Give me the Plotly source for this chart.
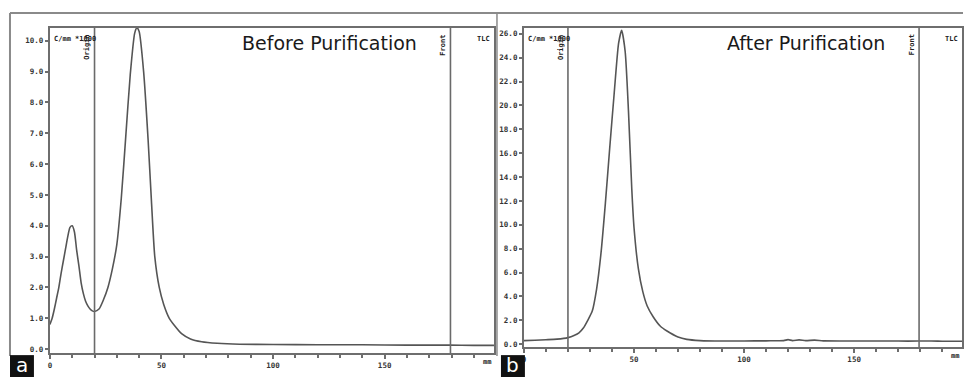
import plotly.graph_objects as go

W, H = 964, 379

# ---------------- data ----------------
mm_a = [0, 1, 2, 3, 4, 5, 6, 7, 8, 9, 10, 11, 12, 13, 14, 15, 16, 17, 18, 19, 20,
        22, 24, 26, 28, 30, 32, 34, 36, 38, 39, 40, 42, 44, 45.5, 47, 49, 51, 53.5,
        56, 59, 63, 68, 75, 85, 100, 120, 140, 160, 179, 190, 199]
cpm_a = [0.8, 1.0, 1.3, 1.65, 2.0, 2.45, 2.85, 3.25, 3.65, 3.95, 4.0, 3.8, 3.2, 2.7,
         2.15, 1.8, 1.55, 1.4, 1.3, 1.24, 1.22,
         1.3, 1.6, 2.0, 2.6, 3.4, 4.9, 6.9, 8.9, 10.25, 10.42, 10.3, 9.0, 6.8, 4.8,
         3.0, 2.0, 1.45, 1.0, 0.75, 0.5, 0.33, 0.24, 0.19, 0.16, 0.15, 0.14, 0.14,
         0.13, 0.13, 0.12, 0.12]

mm_b = [0, 5, 10, 15, 20, 23, 25, 27, 29, 31, 33, 35, 37, 39, 41, 43, 44.4, 46,
        47.5, 49, 50, 52, 54, 56, 58.7, 62, 65, 70, 74, 80, 90, 100, 110, 118, 120,
        122, 125, 128, 132, 136, 145, 160, 170, 179, 185, 190, 199]
cpm_b = [0.3, 0.33, 0.37, 0.42, 0.55, 0.75, 0.95, 1.35, 2.0, 2.75, 4.6, 7.6, 11.8,
         16.5, 21.0, 25.2, 26.3, 24.5, 19.5, 13.0, 9.8, 6.3, 4.4, 3.2, 2.3, 1.5,
         1.1, 0.6, 0.4, 0.3, 0.26, 0.27, 0.28, 0.3, 0.38, 0.3, 0.36, 0.3, 0.34,
         0.28, 0.27, 0.27, 0.26, 0.26, 0.27, 0.25, 0.24]

origin_mm = 20
front_mm = 179.5

yticks_a = [i * 1.0 for i in range(11)]
yticks_b = [i * 2.0 for i in range(14)]
xticks = [0, 50, 100, 150]

titles = ["Before Purification", "After Purification"]
panel_letters = ["a", "b"]


def X(px):
    return px / W


def Y(py):
    return 1 - py / H


CURVE = "#555555"
FRAME = "#8a8a8a"
AX = "#6e6e6e"
TXT = "#333333"
MONO = "DejaVu Sans Mono"

fig = go.Figure()
fig.add_trace(go.Scatter(x=mm_a, y=cpm_a, mode="lines", line=dict(color=CURVE, width=1.6, shape="spline", smoothing=0.6),
                         xaxis="x", yaxis="y", showlegend=False, hoverinfo="skip"))
fig.add_trace(go.Scatter(x=mm_b, y=cpm_b, mode="lines", line=dict(color=CURVE, width=1.6, shape="spline", smoothing=0.6),
                         xaxis="x2", yaxis="y2", showlegend=False, hoverinfo="skip"))

tickfont = dict(family=MONO, size=7.5, color=TXT, weight="bold")


def xax(dom, anchor):
    return dict(domain=dom, anchor=anchor, range=[0, 199], showgrid=False, zeroline=False,
                showline=True, mirror=True, linecolor=AX, linewidth=2,
                tickvals=xticks, ticktext=[str(v) for v in xticks], ticks="outside",
                ticklen=4, tickcolor=AX, tickwidth=1.5, tickfont=tickfont,
                minor=dict(dtick=10, tick0=0, ticks="outside", ticklen=3, tickcolor=AX, tickwidth=1.5))


def yax(dom, anchor, rng, vals):
    return dict(domain=dom, anchor=anchor, range=rng, showgrid=False, zeroline=False,
                showline=True, mirror=True, linecolor=AX, linewidth=2,
                tickvals=vals, ticktext=["%.1f" % v for v in vals], ticks="outside",
                ticklen=3, tickcolor=AX, tickwidth=1.5, tickfont=tickfont)


fig.update_layout(
    width=W, height=H, margin=dict(l=0, r=0, t=0, b=0),
    paper_bgcolor="white", plot_bgcolor="white",
    xaxis=xax([X(48), X(493)], "y"),
    yaxis=yax([Y(355), Y(28)], "x", [-0.13, 10.42], yticks_a),
    xaxis2=xax([X(523), X(962)], "y2"),
    yaxis2=yax([Y(349), Y(28)], "x2", [-0.25, 26.5], yticks_b),
)

shapes = []
annots = []
# outer frame lines
shapes.append(dict(type="line", xref="paper", yref="paper", x0=X(8), x1=X(963), y0=Y(13), y1=Y(13),
                   line=dict(color=FRAME, width=2)))
shapes.append(dict(type="line", xref="paper", yref="paper", x0=X(8), x1=X(8), y0=Y(13), y1=Y(358),
                   line=dict(color=FRAME, width=2)))
shapes.append(dict(type="line", xref="paper", yref="paper", x0=X(496), x1=X(496), y0=Y(13), y1=Y(358),
                   line=dict(color=FRAME, width=1.5)))

panels = [("x", "y", 328, 43, 8, 493, 364), ("x2", "y2", 806, 43, 500, 962, 358)]
for i, (xr, yr, tx, ty, bx, rx, mmy) in enumerate(panels):
    # Origin / Front lines
    for pos, name in [(origin_mm, "Origin"), (front_mm, "Front")]:
        shapes.append(dict(type="line", xref=xr, yref=yr + " domain", x0=pos, x1=pos, y0=0, y1=1,
                           line=dict(color="#6a6a6a", width=1.6)))
        annots.append(dict(xref=xr, yref=yr + " domain", x=pos, y=0.985, text=name, textangle=-90,
                           showarrow=False, xanchor="right", yanchor="top", xshift=-1,
                           font=dict(family=MONO, size=7, color="#222", weight="bold")))
    annots.append(dict(xref=xr + " domain", yref=yr + " domain", x=0, y=0.985, text="C/mm *1000",
                       showarrow=False, xanchor="left", yanchor="top", xshift=2,
                       font=dict(family=MONO, size=7, color="#222", weight="bold")))
    annots.append(dict(xref=xr + " domain", yref=yr + " domain", x=1, y=0.985, text="TLC",
                       showarrow=False, xanchor="right", yanchor="top", xshift=-2,
                       font=dict(family=MONO, size=7, color="#222", weight="bold")))
    annots.append(dict(xref="paper", yref="paper", x=X(rx - 7), y=Y(mmy), text="mm",
                       showarrow=False, xanchor="center", yanchor="middle",
                       font=dict(family=MONO, size=7, color="#222", weight="bold")))
    # title
    annots.append(dict(xref="paper", yref="paper", x=X(tx), y=Y(ty), text=titles[i],
                       showarrow=False, xanchor="center", yanchor="middle",
                       font=dict(family="DejaVu Sans", size=19, color="#1a1a1a")))
    # panel letter box
    shapes.append(dict(type="rect", xref="paper", yref="paper", x0=X(bx), x1=X(bx + 24), y0=Y(379), y1=Y(357),
                       fillcolor="#111111", line=dict(width=0)))
    annots.append(dict(xref="paper", yref="paper", x=X(bx + 12), y=Y(367), text=panel_letters[i],
                       showarrow=False, xanchor="center", yanchor="middle",
                       font=dict(family="DejaVu Sans", size=20, color="white")))

fig.update_layout(shapes=shapes, annotations=annots)
fig.write_html("out.html", config={"displayModeBar": False},
               post_script="document.body.style.margin='0';document.body.style.overflow='hidden';")
